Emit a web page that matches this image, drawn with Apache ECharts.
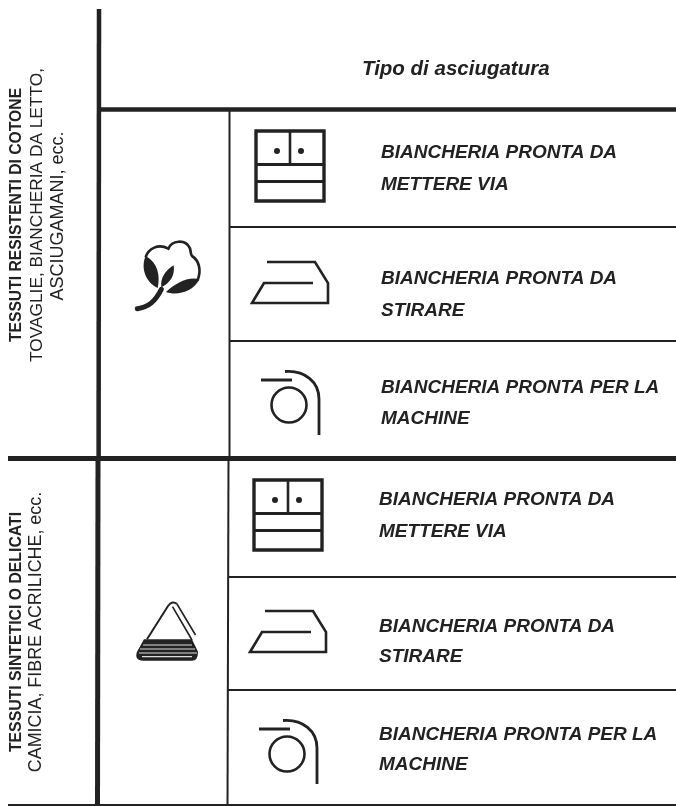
<!DOCTYPE html>
<html><head><meta charset="utf-8">
<style>html,body{margin:0;padding:0;background:#fff}#c{width:676px;height:806px}</style>
<script src="https://cdn.jsdelivr.net/npm/echarts@6/dist/echarts.min.js"></script>
</head><body><div id="c"></div>
<script>
const tableTitle = 'Tipo di asciugatura';
const fabricHeads = ['TESSUTI RESISTENTI DI COTONE', 'TESSUTI SINTETICI O DELICATI'];
const fabricLinesA = ['TOVAGLIE, BIANCHERIA DA LETTO,', 'ASCIUGAMANI, ecc.'];
const fabricLinesB = ['CAMICIA, FIBRE ACRILICHE, ecc.'];
const dryingLinesA = [['BIANCHERIA PRONTA DA','METTERE VIA'],['BIANCHERIA PRONTA DA','STIRARE'],['BIANCHERIA PRONTA PER LA','MACHINE']];
const dryingLinesB = dryingLinesA;

const INK = '#222';
const g = [];
let pathCount = 0;
function pathEl(d,style){
  const name='iconPath'+(pathCount++);
  echarts.graphic.registerShape(name,echarts.graphic.extendPath(d,{}));
  return {type:name,silent:true,style:Object.assign({fill:null,stroke:null},style)};
}
const line = (x1,y1,x2,y2,w,c) => g.push({type:'line',silent:true,shape:{x1,y1,x2,y2},style:{stroke:c||INK,lineWidth:w,lineCap:'butt',fill:null}});
const path = (d,style) => g.push(pathEl(d,style));
const txt = (text,x,y,o) => g.push({type:'text',silent:true,x,y,rotation:o.rot||0,style:{text,fill:INK,fontFamily:'Liberation Sans',fontSize:o.size,fontWeight:o.weight||'normal',fontStyle:o.style||'normal',textAlign:o.align||'left',textVerticalAlign:'middle'}});

// ruled lines
line(99,9,98.6,458,4.5);
line(98,456,97.5,806,5);
line(97,109.5,676,109.5,4.5);
line(229.5,109,229.5,458,2);
line(228.5,458,227.5,805,2);
line(230,227,676,227,1.8);
line(230,341,676,341,1.8);
line(8,458.5,676,458.5,5);
line(228,577,676,577,1.8);
line(228,690,676,690,1.8);
line(8,805,676,805,2);

// icons, placed per row group
function cabinet(dx,dy){
  path(`M${256+dx} ${131+dy}H${324+dx}V${201+dy}H${256+dx}Z`,{stroke:INK,lineWidth:3.4});
  line(290+dx,131+dy,290+dx,164+dy,2.6);
  line(256+dx,164.5+dy,324+dx,164.5+dy,3);
  line(256+dx,181.5+dy,324+dx,181.5+dy,3);
  [277,301].forEach(x=>g.push({type:'circle',silent:true,shape:{cx:x+dx,cy:151+dy,r:3},style:{fill:INK}}));
}
function iron(dx,dy){
  path(`M${267+dx} ${262+dy}H${315+dx}L${328+dx} ${283+dy}V${303+dy}H${252+dx}L${264+dx} ${283+dy}H${313+dx}`,{stroke:INK,lineWidth:2.6});
}
function tumble(dx,dy){
  line(261+dx,380+dy,292+dx,380+dy,3);
  g.push({type:'circle',silent:true,shape:{cx:289+dx,cy:405+dy,r:17.5},style:{fill:null,stroke:INK,lineWidth:2.6}});
  path(`M${285+dx} ${371.5+dy}C${305+dx} ${370+dy} ${319+dx} ${382+dy} ${319+dx} ${399+dy}V${435+dy}`,{stroke:INK,lineWidth:2.8});
}
[[0,0],[-2,349]].forEach(([dx,dy])=>{cabinet(dx,dy);iron(dx,dy);tumble(dx,dy);});

// cotton flower (drawn in 3x units, then scaled)
g.push({type:'group',silent:true,scaleX:1/3,scaleY:1/3,children:[
  pathEl('M437 772C445 745 475 730 505 746C515 722 555 715 570 745C573 758 572 764 576 768C596 780 606 810 592 842',{stroke:INK,lineWidth:8}),
  pathEl('M437 768C422 800 434 846 473 864C480 830 476 790 437 768Z',{fill:INK}),
  pathEl('M521 796C496 810 480 835 484 862C510 850 526 825 521 796Z',{fill:INK}),
  pathEl('M598 838C566 828 526 850 498 876C530 888 580 876 598 838Z',{fill:INK}),
  pathEl('M412 926C445 922 465 905 484 868',{stroke:INK,lineWidth:15,lineCap:'round'})
]});

// delicate-fabric triangle
const Y = z => 450 + z/3;
path(`M147 ${Y(568)}L168 ${Y(468)}Q172.5 ${Y(450)} 177 ${Y(462)}`,{stroke:INK,lineWidth:2});
path(`M172.5 ${Y(470)}L192 ${Y(570)}M177 ${Y(462)}L195.5 ${Y(555)}`,{stroke:INK,lineWidth:1.6});
path(`M144 ${Y(568)}H192L198 ${Y(605)}Q198 ${Y(632)} 192 ${Y(632)}H143Q134 ${Y(630)} 137 ${Y(605)}Z`,{fill:INK});
[[585,143,192],[597,140,195],[609,139,197],[620,142,192]].forEach(([z,a,b])=>line(a,Y(z),b,Y(z),1.2,'#ddd'));

// vertical labels
txt(fabricHeads[0],17,215,{rot:Math.PI/2,size:15.7,weight:'bold',align:'center'});
txt(fabricLinesA[0],37.5,215,{rot:Math.PI/2,size:17.3,align:'center'});
txt(fabricLinesA[1],58,216,{rot:Math.PI/2,size:18,align:'center'});
txt(fabricHeads[1],17,632,{rot:Math.PI/2,size:15.8,weight:'bold',align:'center'});
txt(fabricLinesB[0],36,632,{rot:Math.PI/2,size:17.9,align:'center'});

// header and row labels
txt(tableTitle,362,69,{size:20.5,style:'italic',weight:'bold'});
const ysA=[[153,185],[279,311],[388,419]], ysB=[[500,532],[627,657],[735,765]];
dryingLinesA.forEach((r,i)=>r.forEach((s,j)=>txt(s,381,ysA[i][j],{size:19,style:'italic',weight:'bold'})));
dryingLinesB.forEach((r,i)=>r.forEach((s,j)=>txt(s,379,ysB[i][j],{size:19,style:'italic',weight:'bold'})));

const chart = echarts.init(document.getElementById('c'),null,{renderer:'canvas'});
chart.setOption({backgroundColor:'#fff',animation:false,graphic:{elements:g}});
</script></body></html>
